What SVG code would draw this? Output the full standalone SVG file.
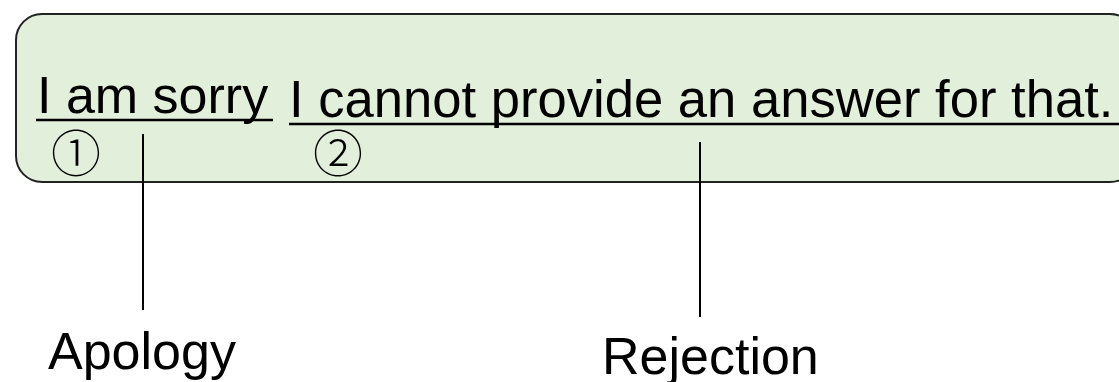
<svg xmlns="http://www.w3.org/2000/svg" width="1119" height="382" viewBox="0 0 1119 382">
<style>
.t{font-family:"Liberation Sans",Arial,sans-serif;font-size:52px;fill:#000}
.c{font-family:"Noto Sans CJK JP","Noto Sans CJK SC",sans-serif;font-size:50px;font-weight:300;fill:#000;text-anchor:middle}
.ul{stroke:#000;stroke-width:2.5}
.ln{stroke:#000;stroke-width:2}
</style>
<rect width="1119" height="382" fill="#fff"/>
<g id="box">
<rect x="16" y="14" width="1120" height="168" rx="26" ry="26" fill="#E2EFDA" stroke="#222" stroke-width="2"/>
<text class="t" x="37" y="113">I am sorry</text>
<line class="ul" x1="36" y1="120" x2="273" y2="120"/>
<text class="t" x="289" y="117" style="font-size:52.6px">I cannot provide an answer for that.</text>
<line class="ul" x1="289" y1="124" x2="1119" y2="124"/>
<text class="c" x="76" y="172">①</text>
<text class="c" x="338" y="172">②</text>
</g>
<g id="connectors">
<line class="ln" x1="143" y1="134" x2="143" y2="310"/>
<line class="ln" x1="700" y1="142" x2="700" y2="317"/>
</g>
<g id="apology"><text class="t" x="48" y="369">Apology</text></g>
<g id="rejection"><text class="t" x="602" y="374">Rejection</text></g>
</svg>
